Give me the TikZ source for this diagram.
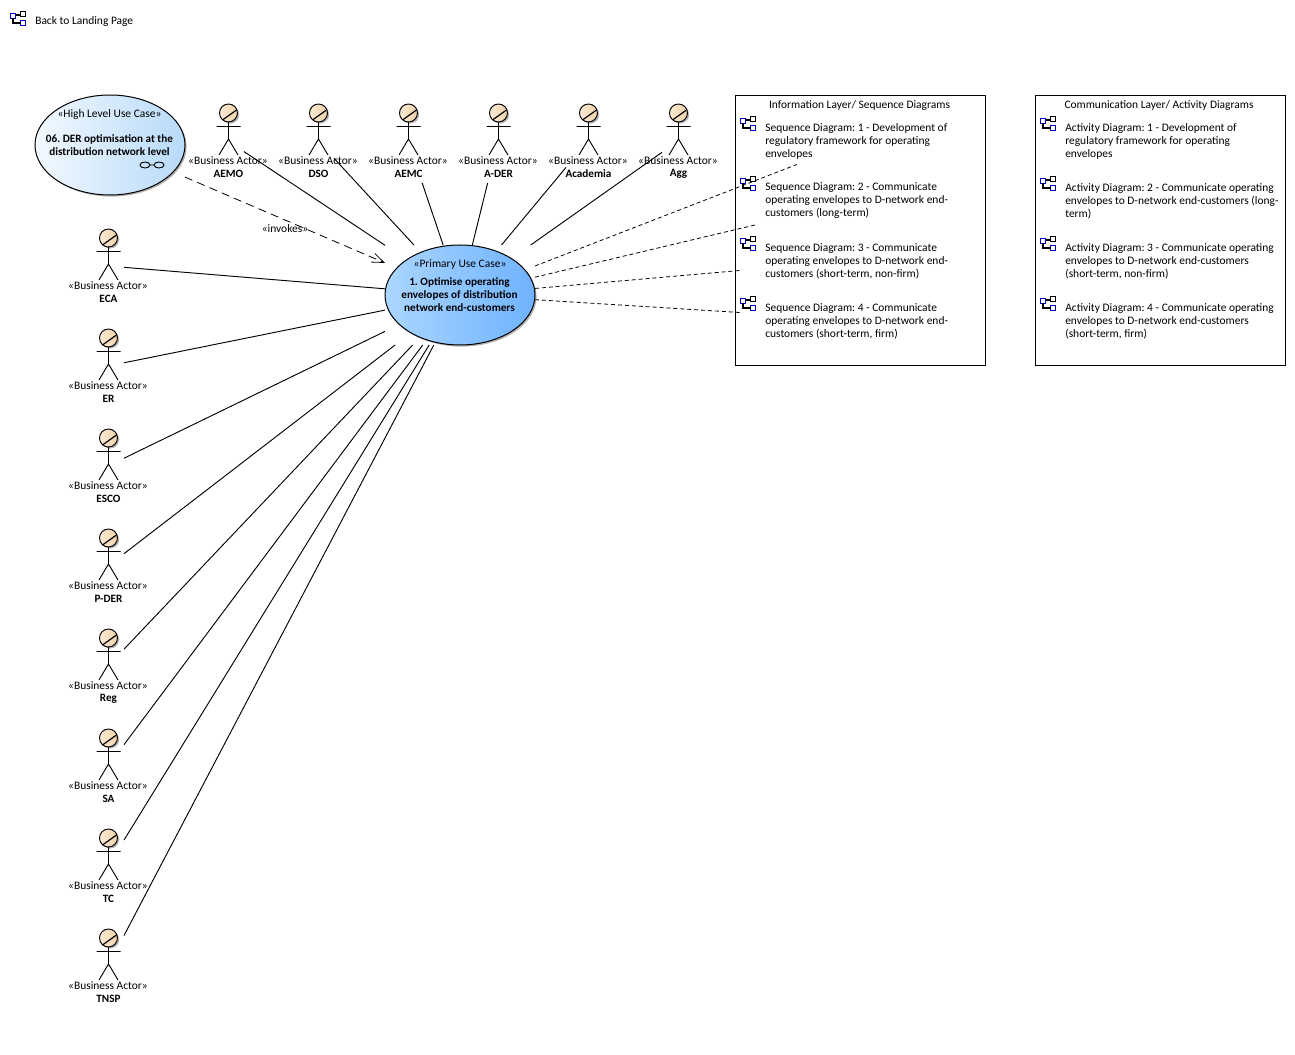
\documentclass[tikz,border=0pt]{standalone}
\usepackage{fontspec}
\setmainfont{Carlito}
\usetikzlibrary{arrows.meta,shapes.geometric,shadows}

\definecolor{hlleft}{HTML}{F2F9FF}
\definecolor{hlright}{HTML}{B8DAF9}
\definecolor{ucleft}{HTML}{ABD6FF}
\definecolor{ucright}{HTML}{6FB3FF}
\definecolor{headleft}{HTML}{FBEBD6}
\definecolor{headright}{HTML}{F0D2A8}
\definecolor{iconblue}{HTML}{0000C8}

\tikzset{
	txt/.style={font=\fontsize{8.6pt}{9.75pt}\selectfont\frenchspacing,inner sep=0pt,align=center},
	boldtxt/.style={txt,font=\fontsize{8.4pt}{9.75pt}\selectfont\bfseries\frenchspacing},
	difftxt/.style={txt,align=left,anchor=west},
	softshadow/.style={drop shadow={shadow xshift=1.2pt,shadow yshift=-1.2pt,opacity=.3,fill=black}},
	hitbox/.style={rectangle,inner sep=0pt,outer sep=0pt},
	casebox/.style={hitbox,minimum width=112.5pt,minimum height=75pt},
	actorhit/.style={hitbox,minimum width=24pt,minimum height=63pt},
	ucase/.style={ellipse,draw,line width=.75pt,inner sep=0pt,minimum width=112.5pt,minimum height=75pt,softshadow},
	frame/.style={draw,line width=.75pt,fill=white},
	assoc/.style={line width=.7pt},
	realize/.style={line width=.6pt,dash pattern=on 3pt off 2.2pt},
	invokes/.style={line width=.6pt,dash pattern=on 6pt off 4pt,-{Straight Barb[length=9pt,width=7pt]}},
	diagicon/.pic={
		\draw[iconblue,line width=1.2pt] (0.5,2.5) rectangle (5.5,7.5) (10.5,9.5) rectangle (15.5,14.5);
		\draw[line width=1.2pt] (10.5,0.5) rectangle (15.5,5.5);
		\draw[line width=.9pt] (5.5,4) -- (10.5,4) (3,7.5) -- (3,12) -- (10.5,12);
	},
	diagitem/.pic={
		\node[hitbox,minimum width=178.5pt,minimum height=36.75pt] (box) at (5,0) {};
		\pic at (-115,-24) {diagicon};
		\node[difftxt] (text) at (-90,1) {#1};
	},
	bizactor/.pic={
		\node[actorhit] (box) at (0,0) {};
		\draw[line width=.7pt] (0.5,-19) -- (0.5,-2) (-11.5,-14.5) -- (12.5,-14.5) (-9,14) -- (0.5,-2) -- (10,14);
		\node[circle,draw,line width=.7pt,inner sep=0pt,minimum size=13.5pt,left color=headleft,right color=headright,softshadow] (head) at (0.5,-28) {};
		\draw[line width=.9pt] (-5.5,-21) -- (8.5,-31);
		\node[txt] (stereo) at (0,19.5) {«Business Actor»};
		\node[boldtxt] (name) at (0.5,32.5) {#1};
	},
}

\begin{document}
\begin{tikzpicture}[x=0.75pt,y=-0.75pt]
	\useasboundingbox (0,0) rectangle (1295,1055);

	% landing page link
	\pic at (10,11) {diagicon};
	\node[txt,anchor=west] (landing) at (35,22) {Back to Landing Page};

	% the two frames go under everything else
	\node[frame,minimum width=187.5pt,minimum height=202.5pt,inner sep=0pt] (infoframe) at (860.5,230.5) {};
	\node[frame,minimum width=187.5pt,minimum height=202.5pt,inner sep=0pt] (commframe) at (1160.5,230.5) {};
	\node[txt] (infotitle) at (859.5,106) {Information Layer/ Sequence Diagrams};
	\node[txt] (commtitle) at (1159,106) {Communication Layer/ Activity Diagrams};

	\pic (seqA) at (855,140) {diagitem={Sequence Diagram: 1 - Development of\\regulatory framework for operating\\envelopes}};
	\pic (seqB) at (855,200) {diagitem={Sequence Diagram: 2 - Communicate\\operating envelopes to D-network end-\\customers (long-term)}};
	\pic (seqC) at (855,260) {diagitem={Sequence Diagram: 3 - Communicate\\operating envelopes to D-network end-\\customers (short-term, non-firm)}};
	\pic (seqD) at (855,320) {diagitem={Sequence Diagram: 4 - Communicate\\operating envelopes to D-network end-\\customers (short-term, firm)}};
	\pic (actA) at (1155,140) {diagitem={Activity Diagram: 1 - Development of\\regulatory framework for operating\\envelopes}};
	\pic (actB) at (1155,200) {diagitem={Activity Diagram: 2 - Communicate operating\\envelopes to D-network end-customers (long-\\term)}};
	\pic (actC) at (1155,260) {diagitem={Activity Diagram: 3 - Communicate operating\\envelopes to D-network end-customers\\(short-term, non-firm)}};
	\pic (actD) at (1155,320) {diagitem={Activity Diagram: 4 - Communicate operating\\envelopes to D-network end-customers\\(short-term, firm)}};

	% use cases
	\node[ucase,left color=hlleft,right color=hlright] (HL) at (110,145) {};
	\node[casebox] (HLbox) at (HL) {};
	\node[txt] (HLstereo) at (109.5,114.5) {«High Level Use Case»};
	\node[boldtxt] (HLtitle) at (109.5,145.5) {06. DER optimisation at the\\distribution network level};
	\draw[line width=.7pt] (145,165) ellipse (5 and 3) (159,165) ellipse (5 and 3) (150,165) -- (154,165);

	\node[ucase,left color=ucleft,right color=ucright] (UC) at (460,295) {};
	\node[casebox] (UCbox) at (UC) {};
	\node[txt] (UCstereo) at (460,264) {«Primary Use Case»};
	\node[boldtxt] (UCtitle) at (459.5,295) {1. Optimise operating\\envelopes of distribution\\network end-customers};

	% actors, top row
	\pic (AEMO) at (228,141) {bizactor=AEMO};
	\pic (DSO) at (318,141) {bizactor=DSO};
	\pic (AEMC) at (408,141) {bizactor=AEMC};
	\pic (ADER) at (498,141) {bizactor=A-DER};
	\pic[actorhit/.append style={minimum width=33pt}] (Academia) at (588,141) {bizactor=Academia};
	\pic (Agg) at (678,141) {bizactor=Agg};

	% actors, left column
	\pic (ECA) at (108,266) {bizactor=ECA};
	\pic (ER) at (108,366) {bizactor=ER};
	\pic (ESCO) at (108,466) {bizactor=ESCO};
	\pic (PDER) at (108,566) {bizactor=P-DER};
	\pic (Reg) at (108,666) {bizactor=Reg};
	\pic (SA) at (108,766) {bizactor=SA};
	\pic (TC) at (108,866) {bizactor=TC};
	\pic (TNSP) at (108,966) {bizactor=TNSP};

	% connectors
	\foreach \who in {AEMO,DSO,AEMC,ADER,Academia,Agg,ECA,ER,ESCO,PDER,Reg,SA,TC,TNSP}
		\draw[assoc] (\who box) -- (UCbox);
	\foreach \seq in {seqA,seqB,seqC,seqD}
		\draw[realize] (UCbox) -- (\seq box);
	\draw[invokes] (HLbox) -- node[txt,midway,yshift=-6.75pt] (inv) {«invokes»} (UCbox);
\end{tikzpicture}
\end{document}
